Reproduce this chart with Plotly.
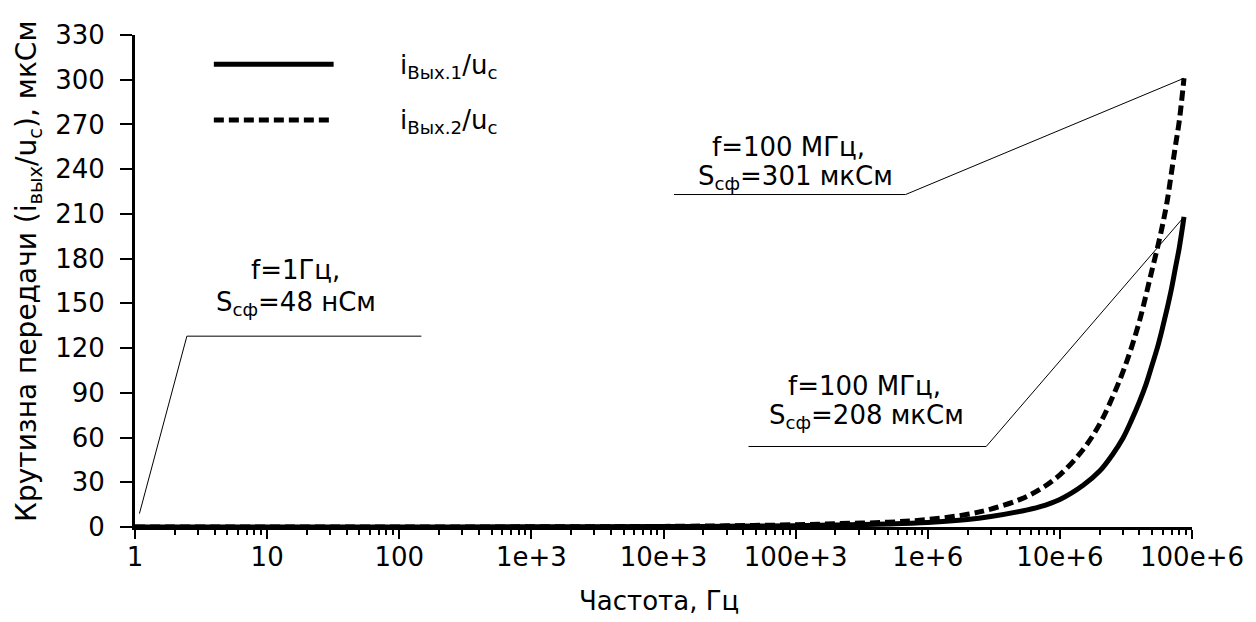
import plotly.graph_objects as go

# ---------------- data ----------------
freq_hz = [1, 10, 100, 1e3, 1e4, 3e4, 1e5, 2e5, 5e5, 1e6, 2e6, 3e6, 5e6, 7e6, 1e7,
           1.5e7, 2e7, 2.5e7, 3e7, 3.5e7, 4e7, 4.5e7, 5e7, 5.5e7, 6e7, 6.5e7, 7e7,
           7.5e7, 8e7, 8.7e7]
s_out1 = [0.05, 0.05, 0.05, 0.1, 0.3, 0.5, 0.9, 1.3, 2.0, 3.0, 5.0, 7.0, 10.5, 13.5, 18.5,
          28, 37.5, 48.5, 59.5, 72, 84, 96, 109, 121, 134, 147, 160, 174, 187, 208]
s_out2 = [0.05, 0.05, 0.05, 0.1, 0.4, 0.8, 1.5, 2.2, 3.2, 5.0, 8.5, 12, 18.5, 25, 35,
          52, 69, 87, 104, 121, 138, 156, 173, 188, 203, 219, 238, 256, 272, 301]

series_names = ["i<sub>Вых.1</sub>/u<sub>с</sub>", "i<sub>Вых.2</sub>/u<sub>с</sub>"]

x_tickvals = [1, 10, 100, 1e3, 1e4, 1e5, 1e6, 1e7, 1e8]
x_ticktext = ["1", "10", "100", "1e+3", "10e+3", "100e+3", "1e+6", "10e+6", "100e+6"]
y_tickvals = list(range(0, 331, 30))

# annotation leader lines (frequency, value)
lead1_f = [1.08, 2.47, 147]
lead1_s = [9, 128, 128]
lead2_f = [8.7e7, 6.8e5, 1.2e4]
lead2_s = [301, 223, 223]
lead3_f = [8.7e7, 2.77e6, 4.4e4]
lead3_s = [208, 54, 54]

FONT = "DejaVu Sans, Liberation Sans, Arial, sans-serif"
FS = 26

fig = go.Figure()

for fx, sy in [(lead1_f, lead1_s), (lead2_f, lead2_s), (lead3_f, lead3_s)]:
    fig.add_trace(go.Scatter(x=fx, y=sy, mode="lines", showlegend=False,
                             line=dict(color="black", width=1), hoverinfo="skip"))

fig.add_trace(go.Scatter(x=freq_hz, y=s_out1, mode="lines", name=series_names[0],
                         line=dict(color="black", width=5, shape="spline", smoothing=1.0),
                         showlegend=False))
fig.add_trace(go.Scatter(x=freq_hz, y=s_out2, mode="lines", name=series_names[1],
                         line=dict(color="black", width=5, dash="10px,5px",
                                   shape="spline", smoothing=1.0),
                         showlegend=False))

minor_vals = [k * 10 ** d for d in range(8) for k in range(2, 10)]

fig.update_xaxes(type="log", range=[0, 8], tickmode="array", tickvals=x_tickvals,
                 ticktext=x_ticktext, ticks="outside", ticklen=9, tickwidth=2,
                 tickcolor="black", showline=True, linecolor="black", linewidth=3,
                 showgrid=False, zeroline=False, ticklabelstandoff=-4,
                 tickfont=dict(family=FONT, size=FS, color="black"),
                 minor=dict(tickmode="array", tickvals=minor_vals, ticks="outside",
                            ticklen=5, tickwidth=2, tickcolor="black", showgrid=False))
fig.update_yaxes(range=[0, 330], tickmode="array", tickvals=y_tickvals,
                 ticks="outside", ticklen=12, tickwidth=2, tickcolor="black",
                 showline=True, linecolor="black", linewidth=3, showgrid=False,
                 zeroline=False, ticklabelstandoff=10,
                 tickfont=dict(family=FONT, size=FS, color="black"))

def px_x(px):
    return (px - 135) / (1194 - 135)

def px_y(py):
    return (527 - py) / (527 - 24)

annotations = []
annotations.append(dict(text="Крутизна передачи (i<sub>вых</sub>/u<sub>с</sub>), мкСм",
                        xref="paper", yref="paper", x=px_x(29), y=px_y(266),
                        textangle=-90, showarrow=False, xanchor="center", yanchor="middle",
                        font=dict(family=FONT, size=28, color="black")))
annotations.append(dict(text="Частота, Гц", xref="paper", yref="paper",
                        x=px_x(660), y=px_y(603), showarrow=False,
                        xanchor="center", yanchor="middle",
                        font=dict(family=FONT, size=FS, color="black")))
callouts = [("f=1Гц,", 296, 264), ("S<sub>сф</sub>=48 нСм", 296, 298),
            ("f=100 МГц,", 790, 138), ("S<sub>сф</sub>=301 мкСм", 797, 170),
            ("f=100 МГц,", 866, 383), ("S<sub>сф</sub>=208 мкСм", 868, 414)]
for txt, cx, cy in callouts:
    annotations.append(dict(text=txt, xref="paper", yref="paper", x=px_x(cx), y=px_y(cy),
                            showarrow=False, xanchor="center", yanchor="middle",
                            font=dict(family=FONT, size=FS, color="black")))
for txt, ly in [(series_names[0], 56), (series_names[1], 112)]:
    annotations.append(dict(text=txt, xref="paper", yref="paper", x=px_x(398), y=px_y(ly),
                            showarrow=False, xanchor="left", yanchor="middle",
                            font=dict(family=FONT, size=FS, color="black")))

shapes = [
    dict(type="line", xref="paper", yref="paper", x0=px_x(214), x1=px_x(334),
         y0=px_y(54), y1=px_y(54), line=dict(color="black", width=5)),
    dict(type="line", xref="paper", yref="paper", x0=px_x(214), x1=px_x(330),
         y0=px_y(111), y1=px_y(111), line=dict(color="black", width=5, dash="10px,5px")),
]

# page body has an 8px margin: figure drawn from (8, 8)
fig.update_layout(width=1248, height=614, plot_bgcolor="white", paper_bgcolor="white",
                  margin=dict(l=127, r=62, t=16, b=95), annotations=annotations,
                  shapes=shapes, showlegend=False,
                  font=dict(family=FONT, size=FS, color="black"))

fig.write_html("out.html")
